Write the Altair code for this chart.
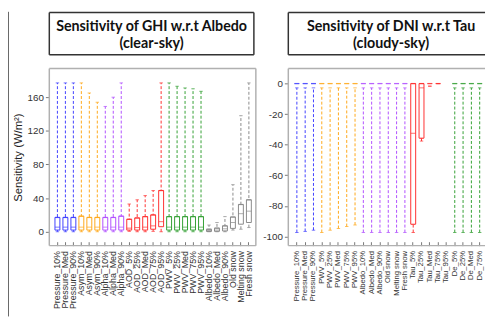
import altair as alt
import pandas as pd

# ---------------- data ----------------
cats_L = ["Pressure_10%", "Pressure_Med", "Pressure_90%", "Asym_10%", "Asym_Med", "Asym_90%",
          "Alpha_10%", "Alpha_Med", "Alpha_90%", "AOD_5%", "AOD_25%", "AOD_Med", "AOD_75%", "AOD_95%",
          "PWV_5%", "PWV_25%", "PWV_Med", "PWV_75%", "PWV_95%", "Albedo_10%", "Albedo_Med", "Albedo_90%",
          "Old snow", "Melting snow", "Fresh snow"]
groups_L = ["Pressure"] * 3 + ["Asym"] * 3 + ["Alpha"] * 3 + ["AOD"] * 5 + ["PWV"] * 5 + ["Albedo"] * 6
max_L = [177, 177, 177, 177, 165, 154, 149, 160, 177, 33, 38, 43, 49, 177, 177, 173, 171, 170, 167, 8, 11, 18, 56, 138, 177]
q3_L = [17, 17, 17, 18.5, 17, 17, 17, 17, 18.5, 14.8, 16.4, 18, 20, 49, 18, 18, 18, 18, 18, 3, 4.3, 7, 17.5, 32.4, 38]
med_L = [5.5, 5.5, 5.5, 5.5, 5.5, 5.5, 5.5, 5.5, 5.5, 4.3, 5, 5.5, 7, 12, 5.5, 5.5, 5.5, 5.5, 5.5, 1.5, 2, 3.5, 11, 21.5, 24.5]
q1_L = [2, 2, 2, 2, 2, 2, 2, 2, 2, 2, 2, 2, 3, 6, 2, 2, 2, 2, 2, 0.3, 0.5, 1, 4, 9, 11]
min_L = [0, 0, 0, 0, 0, 0, 0, 0, 0, 0.5, 0, 0, 0.5, 0, 0, 0, 0, 0, 0, 0, 0, 0, 2, 3, 5]

cats_R = ["Pressure_10%", "Pressure_Med", "Pressure_90%", "PWV_5%", "PWV_25%", "PWV_Med", "PWV_75%", "PWV_95%",
          "Albedo_10%", "Albedo_Med", "Albedo_90%", "Old snow", "Melting snow", "Fresh snow",
          "Tau_5%", "Tau_25%", "Tau_Med", "Tau_75%", "Tau_95%", "De_5%", "De_25%", "De_Med", "De_75%"]
groups_R = ["Pressure"] * 3 + ["PWV"] * 5 + ["Albedo"] * 6 + ["Tau"] * 5 + ["De"] * 4
q3_R = [0] * 14 + [0, 0, 0, 0, None] + [0] * 4
med_R = [0] * 14 + [-32.5, -2.8, 0, 0, None] + [0] * 4
q1_R = [0] * 14 + [-92, -35.7, 0, 0, None] + [0] * 4
hi_R = [-2.8] * 14 + [-92, -35.7, -1.7, 0, None] + [-2.8] * 4
lo_R = [-97.4, -96.7, -95.9, -97.4, -95.9, -94.8, -93.5, -92.5] + [-97.4] * 6 + [-97.4, -37.6, -1.7, 0, None] + [-97.4] * 4

dom_L = ["Pressure", "Asym", "Alpha", "AOD", "PWV", "Albedo"]
rng_L = ["#4040ff", "#ffa81a", "#b050ff", "#ff3030", "#33a033", "#8a8a8a"]
dom_R = ["Pressure", "PWV", "Albedo", "Tau", "De"]
rng_R = ["#4040ff", "#ffa81a", "#b050ff", "#ff3030", "#33a033"]

df_L = pd.DataFrame({"cat": cats_L, "grp": groups_L, "lo": min_L, "hi": max_L,
                     "q1": q1_L, "q3": q3_L, "med": med_L})
df_R = pd.DataFrame({"cat": cats_R, "grp": groups_R, "lo": lo_R, "hi": hi_R,
                     "q1": q1_R, "q3": q3_R, "med": med_R})

FONT = "Liberation Sans"
H = 180
FRAME = "#b0b0b0"
BOXC = "#333333"


def panel(df, cats, ydom, yvals, width, cdom, crange, po, align, xfs, t1, t2, tcx, ytitle, left):
    xsc = alt.Scale(domain=cats, paddingInner=0.3, paddingOuter=po, align=align)
    xax = alt.Axis(title=None, labelAngle=270, labelFontSize=xfs, labelFont=FONT, labelColor="#333",
                   tickSize=4, tickColor="#777", domain=False, offset=-4, labelPadding=5,
                   labelOverlap=False)
    xenc = alt.X("cat:N", sort=cats, scale=xsc, axis=xax)
    ysc = alt.Scale(domain=ydom, nice=False, zero=False)
    yax = alt.Axis(values=yvals, title=ytitle, grid=False, domain=False, tickSize=4, tickColor="#777",
                   labelFont=FONT, labelFontSize=10, labelColor="#333", labelPadding=2,
                   labelExpr="'' + datum.value",
                   titleFont=FONT, titleFontSize=11.5, titleFontWeight="normal", titleColor="#222",
                   titlePadding=4)

    def Y(f):
        return alt.Y(f, type="quantitative", scale=ysc, axis=yax)

    col = alt.Color("grp:N", scale=alt.Scale(domain=cdom, range=crange), legend=None)

    base = alt.Chart(df)
    whisk = base.mark_rule(strokeDash=[3, 2], strokeWidth=1).encode(x=xenc, y=Y("lo"), y2="hi:Q", color=col)
    cap_lo = base.mark_tick(size=3.5, thickness=1).encode(x=xenc, y=Y("lo"), color=col)
    cap_hi = base.mark_tick(size=3.5, thickness=1).encode(x=xenc, y=Y("hi"), color=col)
    box = base.transform_filter("datum.q3 > datum.q1").mark_bar(
        size=5, fill="white", strokeWidth=1).encode(x=xenc, y=Y("q1"), y2="q3:Q", stroke=col)
    top = base.mark_tick(size=5, thickness=1.3).encode(x=xenc, y=Y("q3"), color=col)
    med = base.mark_tick(size=5, thickness=1).encode(x=xenc, y=Y("med"), color=col)

    dec = alt.Chart(pd.DataFrame({"d": [0]}))
    layers = [whisk, cap_lo, cap_hi, box, top, med]
    # plot frame
    layers.append(dec.mark_rule(color=FRAME, strokeWidth=1.5).encode(
        x=alt.value(0), x2=alt.value(width), y=alt.value(0)))
    layers.append(dec.mark_rule(color=FRAME, strokeWidth=1.5).encode(
        x=alt.value(0), x2=alt.value(width), y=alt.value(H)))
    layers.append(dec.mark_rule(color=FRAME, strokeWidth=1.5).encode(
        x=alt.value(0), y=alt.value(0), y2=alt.value(H)))
    # title box
    bw = 208 if left else width
    layers.append(dec.mark_rule(color=BOXC, strokeWidth=1.5).encode(
        x=alt.value(0), x2=alt.value(bw), y=alt.value(-57)))
    layers.append(dec.mark_rule(color=BOXC, strokeWidth=1.5).encode(
        x=alt.value(0), x2=alt.value(bw), y=alt.value(-14)))
    layers.append(dec.mark_rule(color=BOXC, strokeWidth=1.5).encode(
        x=alt.value(0), y=alt.value(-57), y2=alt.value(-14)))
    if left:
        layers.append(dec.mark_rule(color=FRAME, strokeWidth=1.5).encode(
            x=alt.value(width), y=alt.value(0), y2=alt.value(H)))
        layers.append(dec.mark_rule(color=BOXC, strokeWidth=1.5).encode(
            x=alt.value(bw), y=alt.value(-57), y2=alt.value(-14)))
        # slide border at the far left
        layers.append(dec.mark_rule(color="#666", strokeWidth=1).encode(
            x=alt.value(-41.5), y=alt.value(-57.75), y2=alt.value(252)))
    layers.append(dec.mark_text(text=t1, font="Lato", fontSize=14.5, fontWeight="bold", color="#111",
                                align="center", baseline="alphabetic").encode(
        x=alt.value(tcx), y=alt.value(-38)))
    layers.append(dec.mark_text(text=t2, font="Lato", fontSize=14.5, fontWeight="bold", color="#111",
                                align="center", baseline="alphabetic").encode(
        x=alt.value(tcx), y=alt.value(-21)))
    return alt.layer(*layers).properties(width=width, height=H)


left = panel(df_L, cats_L, [-16.5, 194], [0, 40, 80, 120, 160], 210, dom_L, rng_L, 0.595, 0.56, 9.0,
             "Sensitivity of GHI w.r.t Albedo", "(clear-sky)", 104, "Sensitivity (W/m²)", True)
right = panel(df_R, cats_R, [-106, 9.8], [0, -20, -40, -60, -80, -100], 200, dom_R, rng_R, 0.485, 0.7, 7.8,
              "Sensitivity of DNI w.r.t Tau", "(cloudy-sky)", 104.5, None, False)

chart = alt.hconcat(left, right, spacing=33, bounds="flush").resolve_scale(
    color="independent", stroke="independent"
).properties(padding=0).configure_view(stroke=None)

chart.save("out.html", embed_options={"renderer": "svg", "actions": False})
